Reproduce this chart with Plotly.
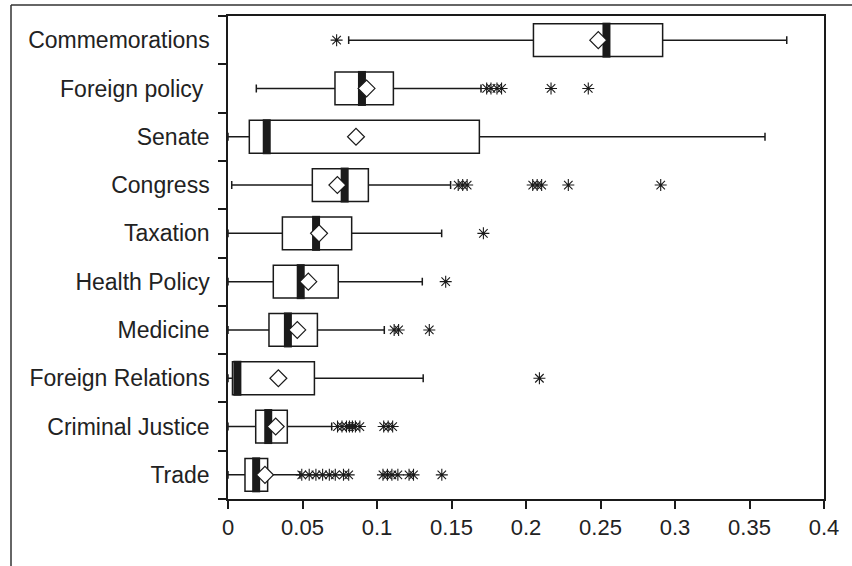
import plotly.graph_objects as go

categories = ["Commemorations", "Foreign policy\u00a0", "Senate", "Congress", "Taxation",
              "Health Policy", "Medicine", "Foreign Relations", "Criminal Justice", "Trade"]
lower = [0.081, 0.019, 0.0, 0.0025, 0.0, 0.0, 0.0, 0.0, 0.0, 0.0]
q1 = [0.205, 0.0718, 0.0143, 0.0566, 0.0365, 0.0304, 0.0275, 0.003, 0.0186, 0.0114]
median = [0.254, 0.0899, 0.026, 0.0783, 0.0591, 0.0488, 0.0402, 0.0063, 0.027, 0.0189]
q3 = [0.2917, 0.111, 0.1687, 0.0942, 0.083, 0.074, 0.06, 0.058, 0.0398, 0.0266]
upper = [0.375, 0.1698, 0.3604, 0.1494, 0.1434, 0.1304, 0.1049, 0.131, 0.0696, 0.0483]
mean = [0.2485, 0.093, 0.0859, 0.0734, 0.0611, 0.0539, 0.0465, 0.0338, 0.032, 0.0248]
outliers = [
    [0.0729],
    [0.1736, 0.1765, 0.1805, 0.1836, 0.2168, 0.2418],
    [],
    [0.1545, 0.1575, 0.1605, 0.2045, 0.2075, 0.2105, 0.2284, 0.2904],
    [0.1714],
    [0.1461],
    [0.1115, 0.1145, 0.1351],
    [0.209],
    [0.0735, 0.0765, 0.0795, 0.0815, 0.0835, 0.0855, 0.0885, 0.1045, 0.1075, 0.1105],
    [0.0495, 0.0545, 0.0590, 0.0635, 0.0680, 0.0720, 0.0775, 0.0810,
     0.1040, 0.1070, 0.1100, 0.1140, 0.1215, 0.1245, 0.1435],
]
x_ticks = [0, 0.05, 0.1, 0.15, 0.2, 0.25, 0.3, 0.35, 0.4]

INK = "#1a1a1a"
FONT = "Liberation Sans, Arial, sans-serif"

fig = go.Figure()
fig.add_trace(go.Box(
    y=categories, q1=q1, median=median, q3=q3,
    lowerfence=lower, upperfence=upper,
    orientation="h", width=0.68, whiskerwidth=0.24,
    fillcolor="white", line=dict(color=INK, width=1.5),
    boxpoints=False, hoverinfo="skip", showlegend=False,
))
fig.add_trace(go.Scatter(
    x=median, y=categories, mode="markers",
    marker=dict(symbol="line-ns", size=25, color=INK, line=dict(color=INK, width=8)),
    hoverinfo="skip", showlegend=False,
))
fig.add_trace(go.Scatter(
    x=mean, y=categories, mode="markers",
    marker=dict(symbol="diamond", size=13, color="white", line=dict(color=INK, width=1.2)),
    hoverinfo="skip", showlegend=False,
))
ox, oy = [], []
for cat, vals in zip(categories, outliers):
    for v in vals:
        ox.append(v)
        oy.append(cat)
fig.add_trace(go.Scatter(
    x=ox, y=oy, mode="markers",
    marker=dict(symbol="asterisk-open", size=10, color=INK, line=dict(color=INK, width=1.1)),
    hoverinfo="skip", showlegend=False,
))

fig.update_layout(
    width=852, height=566,
    margin=dict(l=228, r=28, t=16, b=67),
    paper_bgcolor="white", plot_bgcolor="white",
    font=dict(family=FONT, size=23, color="#222"),
    showlegend=False,
)
fig.update_xaxes(
    range=[0, 0.4], tickvals=x_ticks, ticktext=[f"{t:g}" for t in x_ticks],
    ticks="outside", ticklen=8, tickwidth=1.5, tickcolor=INK,
    showline=True, linecolor=INK, linewidth=1.5, mirror=True,
    showgrid=False, zeroline=False, tickfont=dict(size=22),
)
fig.update_yaxes(
    type="category", categoryorder="array", categoryarray=categories[::-1],
    range=[-0.5, 9.5], tickson="boundaries",
    ticks="outside", ticklen=8, tickwidth=1.5, tickcolor=INK,
    showline=True, linecolor=INK, linewidth=1.5, mirror=True,
    showgrid=False, zeroline=False, tickfont=dict(size=23), ticklabelstandoff=12,
)
# outer frame lines of the original figure
fig.add_shape(type="line", xref="paper", yref="paper",
              x0=(11 - 228) / 596, x1=(852 - 228) / 596, y0=(499 - 5) / 483, y1=(499 - 5) / 483,
              line=dict(color="#333", width=1.5))
fig.add_shape(type="line", xref="paper", yref="paper",
              x0=(11 - 228) / 596, x1=(11 - 228) / 596, y0=(499 - 5) / 483, y1=(499 - 570) / 483,
              line=dict(color="#333", width=1.5))

fig.write_html("out.html")
